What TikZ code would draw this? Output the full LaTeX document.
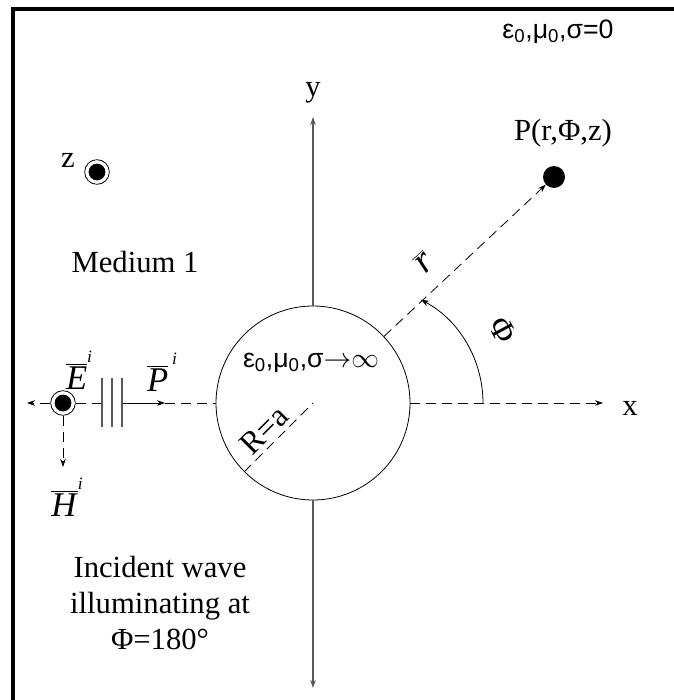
\documentclass[tikz,border=0pt]{standalone}
\usepackage{fontspec}
\setmainfont{Liberation Serif}
\newfontfamily\greeksans{Liberation Sans}
\usetikzlibrary{arrows.meta}
\newcommand{\fieldvec}[2][0pt]{$\overline{\mbox{\textit{#2}}}$\kern#1\raisebox{1.7ex}{\fontsize{13}{13}\selectfont\textit{i}}}

\begin{document}
\begin{tikzpicture}[x=0.75pt,y=0.75pt,>={Stealth[length=6pt,width=4.2pt]},
  every node/.style={font=\fontsize{23}{27}\selectfont},
  dashline/.style={dash pattern=on 7.5pt off 4.5pt,line width=0.6pt},
  axisline/.style={black!65,line width=0.8pt},
  srcdot/.style={circle,draw,line width=0.6pt,minimum size=18.5pt,inner sep=0pt,
    path picture={\fill (path picture bounding box.center) circle (6.3pt);}}]
  \useasboundingbox (0,0) rectangle (674,-700);
  \draw[line width=3pt] (13,-700) -- (13,-9) -- (674,-9);
  % scatterer and axes
  \node[circle,draw,line width=0.6pt,minimum size=145.5pt,inner sep=0pt] (sphere) at (313,-403) {};
  \node[font=\greeksans\fontsize{20}{24}\selectfont] (inner) at (311,-363) {ε\textsubscript{0},μ\textsubscript{0},σ$\mathord{\rightarrow}\mathord{\infty}$};
  \node[font=\greeksans\fontsize{20}{24}\selectfont] (outer) at (558,-32) {ε\textsubscript{0},μ\textsubscript{0},σ=0};
  \coordinate (ytop) at (313,-117);
  \coordinate (ybot) at (313,-688);
  \coordinate (xtip) at (603,-403);
  \draw[axisline,->] (sphere.north) -- (ytop);
  \draw[axisline,->] (sphere.south) -- (ybot);
  \draw[dashline,->] (sphere.east) -- (xtip);
  \node (ylab) at (313,-93) {y};
  \node (xlab) at (630,-408) {x};
  % observation point
  \node[circle,fill,minimum size=16.5pt,inner sep=0pt] (P) at (554,-177) {};
  \node (Plab) at (563,-133) {P(r,Φ,z)};
  \draw[dashline,->] (sphere) -- (P) node[pos=0.36,above=9pt,sloped,font=\fontsize{28}{30}\selectfont] {$\overline{\mbox{\textit{r}}}$};
  \draw[line width=0.6pt,->] (483,-403) arc[start angle=0,end angle=62,radius=117];
  \node[rotate=-62,font=\fontsize{25}{27}\selectfont] (philab) at (503,-330) {Φ};
  \draw[dashline] (sphere.225) -- (sphere.center) node[pos=0.45,above,sloped,font=\fontsize{24}{26}\selectfont] {R=a};
  % incident wave
  \node[srcdot] (zdot) at (97,-172) {};
  \node (zlab) at (68,-160) {z};
  \node (medium) at (135,-262) {Medium 1};
  \node[srcdot] (E) at (63,-403) {};
  \coordinate (ltip) at (27,-403);
  \coordinate (htip) at (63,-467);
  \coordinate (w1) at (102,-403);
  \coordinate (w3) at (122,-403);
  \coordinate (ptip) at (165,-403);
  \draw[dashline,->] (E) -- (ltip);
  \draw[dashline,->] (E) -- (htip);
  \draw[dashline] (E) -- (w1);
  \draw[line width=0.6pt,->] (w3) -- (ptip);
  \draw[dashline] (ptip) -- (sphere.west);
  \foreach \x in {102,112,122} \draw[axisline] (\x,-378) -- (\x,-427);
  \node[font=\fontsize{26}{28}\selectfont] (Elab) at (79,-370) {\fieldvec{E}};
  \node[font=\fontsize{26}{28}\selectfont] (Pilab) at (162,-372) {\fieldvec[3pt]{P}};
  \node[font=\fontsize{26}{28}\selectfont] (Hlab) at (67,-497) {\fieldvec{H}};
  \node[align=center] (incident) at (160,-603) {Incident wave\\illuminating at\\Φ=180°};
\end{tikzpicture}
\end{document}
